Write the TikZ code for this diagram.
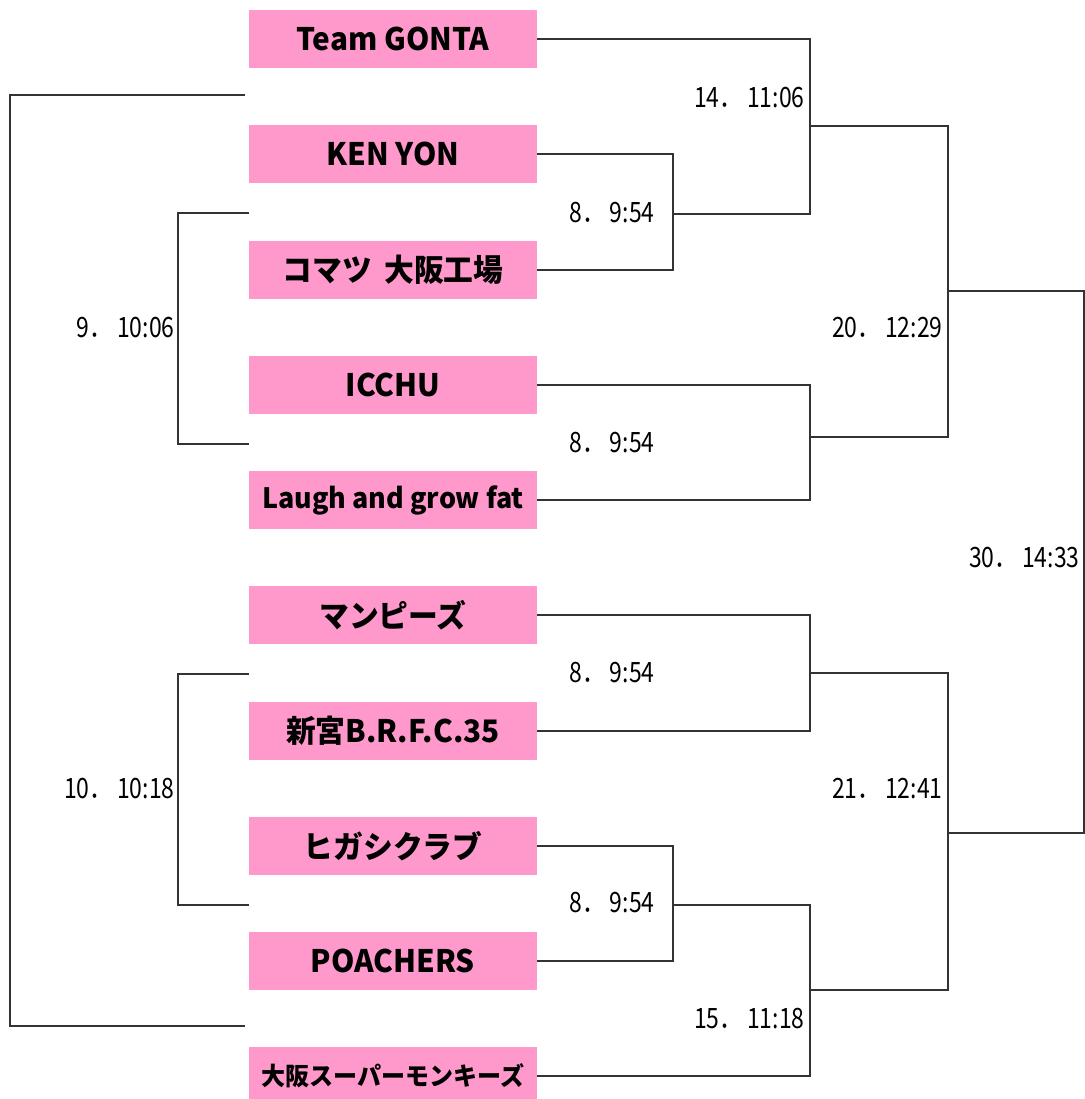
\documentclass[tikz,border=0pt]{standalone}
\usepackage{fontspec}
\usepackage{tikz}
\usepackage{xcolor}
\newfontfamily\teamfont[FakeStretch=0.96]{Noto Sans CJK JP}
\newfontfamily\scorefont[FakeStretch=0.82]{Noto Sans CJK JP}
\definecolor{pinkbox}{RGB}{255,153,204}
\definecolor{linegray}{rgb}{0.2,0.2,0.2}

\begin{document}
\begin{tikzpicture}[x=0.5pt, y=-0.5pt,
		team/.style={fill=pinkbox, minimum width=144pt, minimum height=29pt, inner sep=0pt, font=\teamfont\bfseries\fontsize{15.5}{18}\selectfont},
		score/.style={anchor=east, inner sep=0pt, font=\scorefont\fontsize{14}{16}\selectfont},
		link/.style={linegray, line width=0.75pt}]
			\useasboundingbox (0,0) rectangle (1085,1099);
			% teams
			\node[team] (t1) at (393,39) {Team GONTA};
			\node[team] (t2) at (393,154) {KEN YON};
			\node[team] (t3) at (393,270) {コマツ\hspace{0.4em}大阪工場};
			\node[team] (t4) at (393,385) {ICCHU};
			\node[team, font=\teamfont\bfseries\fontsize{14}{17}\selectfont] (t5) at (393,500) {Laugh and grow fat};
			\node[team] (t6) at (393,615) {マンピーズ};
			\node[team] (t7) at (393,731) {新宮B.R.F.C.35};
			\node[team] (t8) at (393,846) {ヒガシクラブ};
			\node[team] (t9) at (393,961) {POACHERS};
			\node[team, font=\teamfont\bfseries\fontsize{12.5}{15}\selectfont] (t10) at (393,1076) {大阪スーパーモンキーズ};
			% junctions
			\coordinate (m8a) at (673,214);
			\coordinate (m14) at (810,126);
			\coordinate (m8b) at (810,437);
			\coordinate (m20) at (948,291);
			\coordinate (m30) at (1084,558);
			\coordinate (m8c) at (810,673);
			\coordinate (m21) at (948,833);
			\coordinate (m8d) at (673,905);
			\coordinate (m15) at (810,990);
			\coordinate (m9) at (178,328);
			\coordinate (m10) at (178,789);
			\coordinate (m0) at (10,560);
			\coordinate (l1) at (245,95);
			\coordinate (l9a) at (249,213);
			\coordinate (l9b) at (249,444);
			\coordinate (l10a) at (249,674);
			\coordinate (l10b) at (249,905);
			\coordinate (l2) at (245,1026);
			% right side
			\draw[link] (t2.east) -| (m8a) |- (t3.east);
			\draw[link] (t1.east) -| (m14) |- (m8a);
			\draw[link] (t4.east) -| (m8b) |- (t5.east);
			\draw[link] (m14) -| (m20) |- (m8b);
			\draw[link] (t6.east) -| (m8c) |- (t7.east);
			\draw[link] (t8.east) -| (m8d) |- (t9.east);
			\draw[link] (m8d) -| (m15) |- (t10.east);
			\draw[link] (m8c) -| (m21) |- (m15);
			\draw[link] (m20) -| (m30) |- (m21);
			% left side
			\draw[link] (l9a) -| (m9) |- (l9b);
			\draw[link] (l10a) -| (m10) |- (l10b);
			\draw[link] (l1) -| (m0) |- (l2);
			% scores
			\node[score] (s14) at (805,98) {14．\,11:06};
			\node[score] (s8a) at (655,213) {8．\,9:54};
			\node[score] (s20) at (943,328) {20．\,12:29};
			\node[score] (s8b) at (655,443) {8．\,9:54};
			\node[score] (s30) at (1080,558) {30．\,14:33};
			\node[score] (s8c) at (655,673) {8．\,9:54};
			\node[score] (s21) at (943,789) {21．\,12:41};
			\node[score] (s8d) at (655,903) {8．\,9:54};
			\node[score] (s15) at (805,1019) {15．\,11:18};
			\node[score] (s9) at (175,328) {9．\,10:06};
			\node[score] (s10) at (175,789) {10．\,10:18};
		\end{tikzpicture}
\end{document}
